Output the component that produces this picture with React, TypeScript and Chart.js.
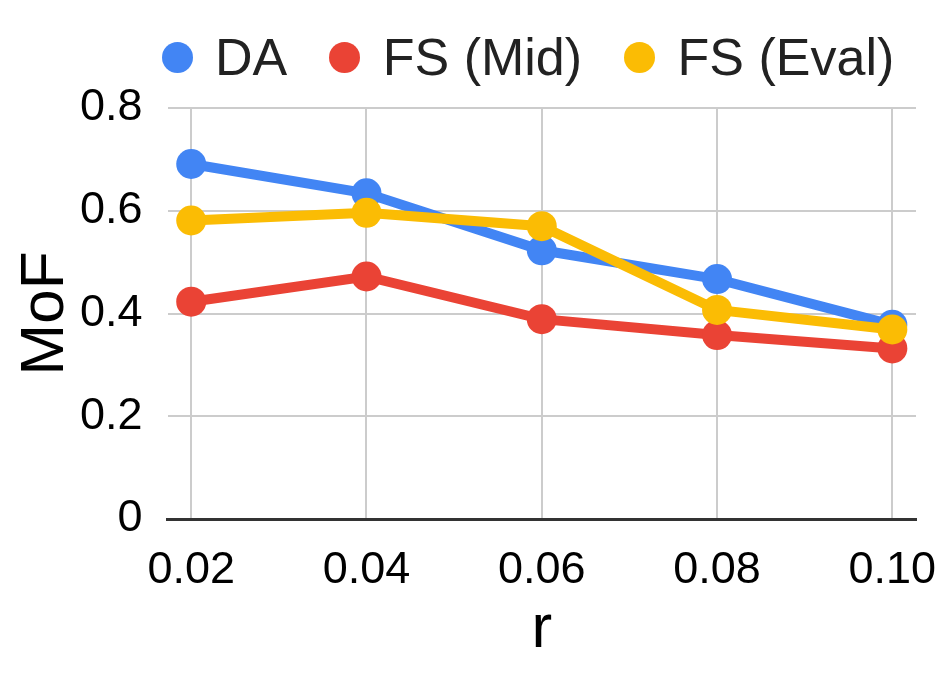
import { useEffect, useRef } from "react";
import { Chart, registerables, type ChartData, type ChartOptions } from "chart.js";

Chart.register(...registerables);

const FONT = "'Liberation Sans', Arial, sans-serif";

const rValues = [0.02, 0.04, 0.06, 0.08, 0.1];
const daMoF = [0.691, 0.634, 0.523, 0.467, 0.378];
const fsMidMoF = [0.423, 0.472, 0.389, 0.358, 0.332];
const fsEvalMoF = [0.581, 0.596, 0.57, 0.407, 0.369];
const yTicks = [0, 0.2, 0.4, 0.6, 0.8];

const seriesLabels = ["DA", "FS (Mid)", "FS (Eval)"];
const seriesValues = [daMoF, fsMidMoF, fsEvalMoF];
const seriesColors = ["#4285F4", "#EA4335", "#FBBC04"];

const data: ChartData<"line"> = {
  datasets: seriesLabels.map((label, i) => ({
    label,
    data: rValues.map((r, j) => ({ x: r, y: seriesValues[i][j] })),
    borderColor: seriesColors[i],
    backgroundColor: seriesColors[i],
    pointBackgroundColor: seriesColors[i],
    borderWidth: 10,
    pointRadius: 15,
    pointBorderWidth: 0,
    pointHoverRadius: 15,
    tension: 0,
    fill: false,
    // last series sits on top, like the reference
    order: seriesLabels.length - i,
  })),
};

const options: ChartOptions<"line"> = {
  responsive: true,
  maintainAspectRatio: false,
  animation: false,
  layout: { padding: { top: 108, right: 36, bottom: 12, left: 15 } },
  plugins: {
    legend: { display: false },
    tooltip: { enabled: false },
  },
  scales: {
    x: {
      type: "linear",
      min: 0.0173,
      max: 0.1027,
      afterBuildTicks: (scale) => {
        scale.ticks = rValues.map((v) => ({ value: v }));
      },
      // the plot already leaves room for the end labels
      afterFit: (scale) => {
        scale.paddingLeft = 0;
        scale.paddingRight = 0;
      },
      grid: { color: "#cccccc", lineWidth: 2, drawTicks: false },
      border: { display: true, color: "#333333", width: 3 },
      ticks: {
        autoSkip: false,
        maxRotation: 0,
        padding: 29,
        color: "#000",
        font: { family: FONT, size: 45, lineHeight: 1 },
        callback: (v) => Number(v).toFixed(2),
      },
      title: {
        display: true,
        text: "r",
        color: "#000",
        padding: { top: -23, bottom: 0 },
        font: { family: FONT, size: 62, lineHeight: 1 },
      },
    },
    y: {
      type: "linear",
      min: 0,
      max: 0.8,
      afterBuildTicks: (scale) => {
        scale.ticks = yTicks.map((v) => ({ value: v }));
      },
      grid: {
        lineWidth: 2,
        drawTicks: false,
        color: (ctx) => (ctx.tick && ctx.tick.value === 0 ? "rgba(0,0,0,0)" : "#cccccc"),
      },
      border: { display: false },
      ticks: {
        padding: 25,
        color: "#000",
        font: { family: FONT, size: 45, lineHeight: 1 },
        callback: (v) => (Number(v) === 0 ? "0" : Number(v).toFixed(1)),
      },
      title: {
        display: true,
        text: "MoF",
        color: "#000",
        padding: { top: 0, bottom: -22 },
        font: { family: FONT, size: 62, lineHeight: 1 },
      },
    },
  },
};

function Legend() {
  return (
    <div
      style={{
        position: "absolute",
        left: 161.5,
        top: 31,
        display: "flex",
        alignItems: "center",
        gap: 42,
        fontFamily: FONT,
        fontSize: 52,
        lineHeight: "52px",
        color: "#222",
        whiteSpace: "nowrap",
      }}
    >
      {seriesLabels.map((label, i) => (
        <span key={label} style={{ display: "flex", alignItems: "center" }}>
          <span
            style={{
              display: "inline-block",
              width: 31,
              height: 31,
              borderRadius: "50%",
              background: seriesColors[i],
              marginRight: 22.5,
            }}
          />
          {label}
        </span>
      ))}
    </div>
  );
}

export default function App() {
  const canvasRef = useRef<HTMLCanvasElement>(null);
  const chartRef = useRef<Chart<"line"> | null>(null);

  useEffect(() => {
    if (!canvasRef.current) return;
    chartRef.current = new Chart(canvasRef.current, { type: "line", data, options });
    return () => {
      chartRef.current?.destroy();
    };
  }, []);

  return (
    <div
      style={{
        position: "absolute",
        left: 0,
        top: 0,
        width: 952,
        height: 673,
        background: "#fff",
        overflow: "hidden",
      }}
    >
      <div style={{ position: "absolute", inset: 0 }}>
        <canvas ref={canvasRef} role="img" aria-label="MoF against r for DA, FS (Mid) and FS (Eval)" />
      </div>
      <Legend />
    </div>
  );
}
